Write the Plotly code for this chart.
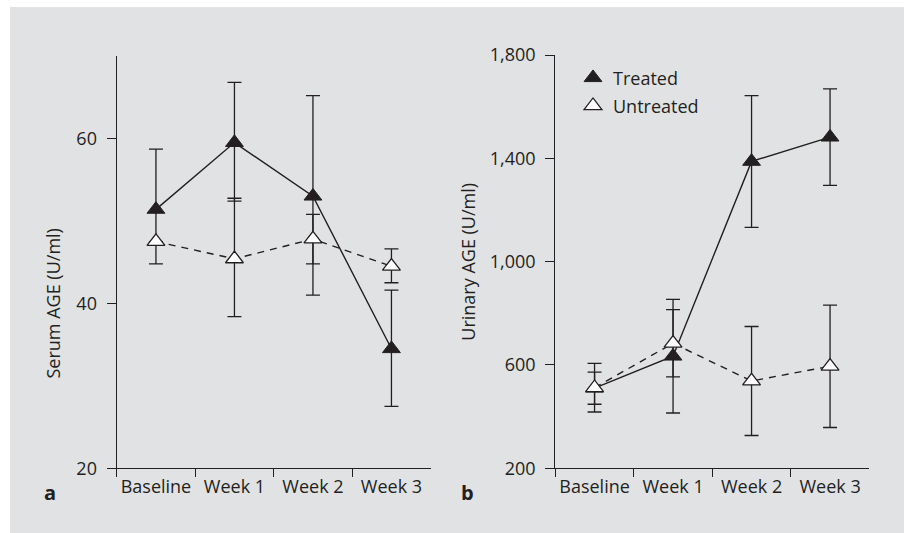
import plotly.graph_objects as go

categories = ["Baseline", "Week 1", "Week 2", "Week 3"]

serum_treated = [51.4, 59.5, 53.0, 34.5]
serum_treated_err_plus = [7.3, 7.3, 12.2, 7.1]
serum_treated_err_minus = [4.3, 7.1, 12.0, 7.0]
serum_untreated = [47.5, 45.4, 47.8, 44.5]
serum_untreated_err_plus = [0.0, 7.35, 3.0, 2.1]
serum_untreated_err_minus = [2.7, 7.0, 3.0, 2.0]

urinary_treated = [510, 634, 1388, 1482]
urinary_treated_err = [62, 220, 255, 187]
urinary_untreated = [512, 684, 538, 595]
urinary_untreated_err = [94, 130, 211, 237]

serum_ticks = [20, 40, 60]
urinary_ticks = [200, 600, 1000, 1400, 1800]
urinary_ticktext = ["200", "600", "1,000", "1,400", "1,800"]

DARK = "#231f20"
BG = "#e1e2e4"
FONT = "Open Sans"
W, H = 904, 533

fig = go.Figure()


def add_panel(xa, ya, tr, tr_p, tr_m, un, un_p, un_m, legend):
    fig.add_trace(go.Scatter(x=categories, y=tr, mode="lines", xaxis=xa, yaxis=ya,
                             line=dict(color=DARK, width=1.4), showlegend=False, hoverinfo="skip"))
    fig.add_trace(go.Scatter(x=categories, y=un, mode="lines", xaxis=xa, yaxis=ya,
                             line=dict(color=DARK, width=1.4, dash="7px,6px"),
                             showlegend=False, hoverinfo="skip"))
    fig.add_trace(go.Scatter(x=categories, y=tr, mode="markers", xaxis=xa, yaxis=ya,
                             name="Treated", showlegend=legend, legend="legend",
                             marker=dict(symbol="triangle-up", size=15.5, color=DARK,
                                         line=dict(color=DARK, width=1)),
                             error_y=dict(type="data", symmetric=False, array=tr_p,
                                          arrayminus=tr_m, color=DARK,
                                          thickness=1.3, width=7)))
    fig.add_trace(go.Scatter(x=categories, y=un, mode="markers", xaxis=xa, yaxis=ya,
                             name="Untreated", showlegend=legend, legend="legend2",
                             marker=dict(symbol="triangle-up", size=15.5, color="white",
                                         line=dict(color=DARK, width=1.3)),
                             error_y=dict(type="data", symmetric=False, array=un_p,
                                          arrayminus=un_m, color=DARK,
                                          thickness=1.3, width=7)))


add_panel("x", "y", serum_treated, serum_treated_err_plus, serum_treated_err_minus,
          serum_untreated, serum_untreated_err_plus, serum_untreated_err_minus, False)
add_panel("x2", "y2", urinary_treated, urinary_treated_err, urinary_treated_err,
          urinary_untreated, urinary_untreated_err, urinary_untreated_err, True)

xcommon = dict(type="category", range=[-0.5, 3.5], tickson="boundaries", ticks="outside",
               ticklen=8, tickwidth=1.2, tickcolor=DARK, showline=True, linecolor=DARK,
               linewidth=1.3, showgrid=False, zeroline=False, tickangle=0, automargin=False,
               tickfont=dict(family=FONT, size=18, color=DARK), ticklabelstandoff=2)
ycommon = dict(ticks="outside", ticklen=9, tickwidth=1.2, tickcolor=DARK, showline=True,
               linecolor=DARK, linewidth=1.3, showgrid=False, zeroline=False, automargin=False,
               tickfont=dict(family=FONT, size=18, color=DARK), ticklabelstandoff=6)

bottom = 1 - 468.3 / H
fig.update_layout(
    template="none",
    width=W, height=H, autosize=False,
    margin=dict(l=0, r=0, t=0, b=0, pad=0, autoexpand=False),
    paper_bgcolor=BG, plot_bgcolor=BG,
    xaxis=dict(domain=[116.7 / W, 430.7 / W], anchor="y", **xcommon),
    yaxis=dict(domain=[bottom, 1 - 56 / H], anchor="x", range=[20, 70],
               tickvals=serum_ticks, **ycommon),
    xaxis2=dict(domain=[555.3 / W, 869.3 / W], anchor="y2", **xcommon),
    yaxis2=dict(domain=[bottom, 1 - 55 / H], anchor="x2", range=[200, 1800],
                tickvals=urinary_ticks, ticktext=urinary_ticktext, **ycommon),
    legend=dict(x=(593 - 20) / W, y=1 - 59.5 / H, xanchor="left", yanchor="top",
                bgcolor="rgba(0,0,0,0)", font=dict(family=FONT, size=18, color=DARK)),
    legend2=dict(x=(593 - 20) / W, y=1 - 87.5 / H, xanchor="left", yanchor="top",
                 bgcolor="rgba(0,0,0,0)", font=dict(family=FONT, size=18, color=DARK)),
    shapes=[
        dict(type="rect", xref="paper", yref="paper", x0=0, x1=10 / W, y0=0, y1=1,
             fillcolor="white", line=dict(width=0), layer="below"),
        dict(type="rect", xref="paper", yref="paper", x0=0, x1=1, y0=1 - 7 / H, y1=1,
             fillcolor="white", line=dict(width=0), layer="below"),
    ],
    annotations=[
        dict(text="Serum AGE (U/ml)", xref="paper", yref="paper", x=52 / W,
             y=1 - 303.5 / H, textangle=-90, showarrow=False, xanchor="center",
             yanchor="middle", font=dict(family=FONT, size=18, color=DARK)),
        dict(text="Urinary AGE (U/ml)", xref="paper", yref="paper", x=468 / W,
             y=1 - 261.7 / H, textangle=-90, showarrow=False, xanchor="center",
             yanchor="middle", font=dict(family=FONT, size=18, color=DARK)),
        dict(text="<b>a</b>", xref="paper", yref="paper", x=49.5 / W, y=1 - 492.5 / H,
             showarrow=False, xanchor="center", yanchor="middle",
             font=dict(family=FONT, size=20, color=DARK)),
        dict(text="<b>b</b>", xref="paper", yref="paper", x=467.5 / W, y=1 - 492.5 / H,
             showarrow=False, xanchor="center", yanchor="middle",
             font=dict(family=FONT, size=20, color=DARK)),
    ],
)

fig.write_html("out.html", config={"displayModeBar": False},
               post_script="document.body.style.margin='0';"
                           "document.body.style.overflow='hidden';"
                           "document.body.style.background='" + BG + "';"
                           "document.documentElement.style.background='" + BG + "';")
